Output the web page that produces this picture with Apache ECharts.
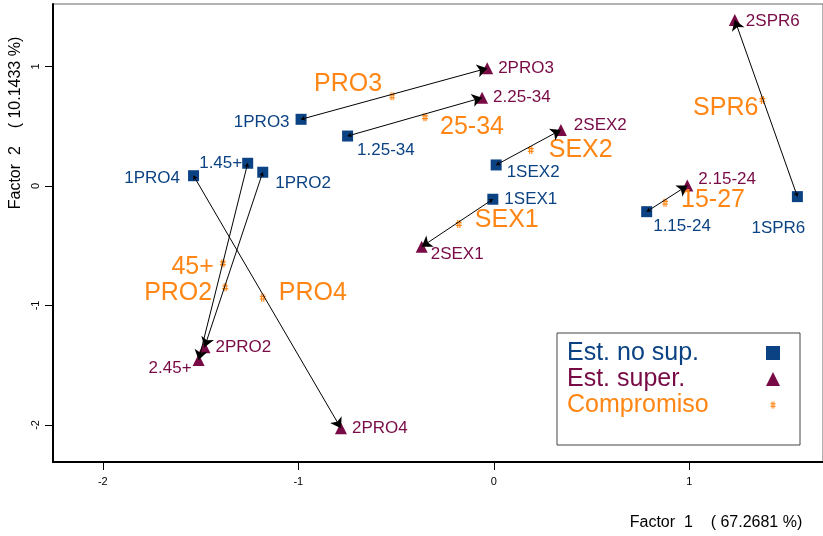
<!DOCTYPE html>
<html>
<head>
<meta charset="utf-8">
<script src="https://cdn.jsdelivr.net/npm/echarts@6/dist/echarts.min.js"></script>
<style>
  html, body { margin: 0; padding: 0; background: #fff; }
  #chart { width: 823px; height: 536px; }
</style>
</head>
<body>
<div id="chart"></div>
<script>
// Est. no sup. (squares)
const noSupNames = ["1PRO3", "1.25-34", "1SEX2", "1SEX1", "1.15-24", "1SPR6", "1.45+", "1PRO2", "1PRO4"];
const noSupX = [-0.986, -0.748, 0.012, -0.005, 0.782, 1.553, -1.259, -1.182, -1.536];
const noSupY = [0.558, 0.418, 0.176, -0.111, -0.215, -0.089, 0.19, 0.115, 0.086];

// Est. super. (triangles)
const superNames = ["2PRO3", "2.25-34", "2SEX2", "2SEX1", "2.15-24", "2SPR6", "2.45+", "2PRO2", "2PRO4"];
const superX = [-0.034, -0.06, 0.343, -0.369, 0.99, 1.233, -1.51, -1.48, -0.782];
const superY = [0.985, 0.739, 0.469, -0.508, 0.003, 1.389, -1.456, -1.35, -2.028];

// Compromiso (#)
const compNames = ["PRO3", "25-34", "SEX2", "SEX1", "15-27", "SPR6", "45+", "PRO2", "PRO4"];
const compX = [-0.52, -0.352, 0.189, -0.179, 0.876, 1.374, -1.386, -1.374, -1.182];
const compY = [0.75, 0.575, 0.301, -0.318, -0.14, 0.72, -0.647, -0.848, -0.935];

const xTicks = [-2, -1, 0, 1];
const yTicks = [-2, -1, 0, 1];

// where each label sits: [side, dx, dy]
const place = {
  "1PRO3": ["left", -1, 3], "1.25-34": ["right", -1, 14], "1SEX2": ["right", 0, 7],
  "1SEX1": ["right", 1, 0], "1.15-24": ["right", -4, 15], "1SPR6": ["bottom", -19, 13],
  "1.45+": ["left", 5, 0], "1PRO2": ["right", 2, 11], "1PRO4": ["left", -3, 3],
  "2PRO3": ["right", 0, 0], "2.25-34": ["right", 0, 0], "2SEX2": ["right", 2, -5],
  "2SEX1": ["right", -2, 8], "2.15-24": ["right", 0, -6], "2SPR6": ["right", 0, 1],
  "2.45+": ["left", 4, 8], "2PRO2": ["right", 0, 0], "2PRO4": ["right", 0, 0],
  "PRO3": ["left", 0, -12], "25-34": ["right", 5, 10], "SEX2": ["right", 8, 0],
  "SEX1": ["right", 6, -4], "15-27": ["right", 6, -3], "SPR6": ["left", 6, 8],
  "45+": ["left", 1, 4], "PRO2": ["left", -3, 6], "PRO4": ["right", 6, -5]
};

const BLUE = "#0B4283";
const MAROON = "#780A45";
const ORANGE = "#FF8614";
const FONT = "Liberation Sans, Arial, sans-serif";

// hash glyph with invisible corner specks so it sits small inside its box
const HASH = "path://M0,0h0.01v0.01h-0.01z M20,20h0.01v0.01h-0.01z " +
  "M8,5h1.4v10h-1.4z M10.6,5h1.4v10h-1.4z M6.3,7.6h7.4v1.4h-7.4z M6.3,11h7.4v1.4h-7.4z";

function points(names, xs, ys) {
  return names.map((n, i) => {
    const p = place[n];
    return {
      name: n,
      value: [xs[i], ys[i]],
      label: { position: p[0], offset: [p[1], p[2]] }
    };
  });
}

const arrows = noSupNames.map((n, i) => ({
  coords: [[noSupX[i], noSupY[i]], [superX[i], superY[i]]]
}));

const chart = echarts.init(document.getElementById("chart"));

const option = {
  animation: false,
  backgroundColor: "#fff",
  textStyle: { fontFamily: FONT },
  grid: {
    left: 53, top: 4, right: -2, bottom: 74,
    show: true, borderColor: "#666", borderWidth: 1
  },
  xAxis: {
    type: "value",
    min: -2.255,
    max: 1.684,
    splitLine: { show: false },
    axisLine: { onZero: false, lineStyle: { color: "#000", width: 2 } },
    axisTick: { length: 8, customValues: xTicks, lineStyle: { color: "#000" } },
    axisLabel: { customValues: xTicks, color: "#000", fontSize: 11, margin: 14, fontFamily: FONT }
  },
  yAxis: {
    type: "value",
    min: -2.31,
    max: 1.523,
    splitLine: { show: false },
    axisLine: { onZero: false, lineStyle: { color: "#000", width: 2 } },
    axisTick: { length: 8, customValues: yTicks, lineStyle: { color: "#000" } },
    axisLabel: { customValues: yTicks, color: "#000", fontSize: 11, margin: 12, rotate: 90, fontFamily: FONT }
  },
  legend: [
    {
      // text column
      orient: "vertical",
      left: 562,
      top: 340,
      padding: 0,
      itemGap: 0,
      itemWidth: 0,
      itemHeight: 0,
      icon: "none",
      selectedMode: false,
      textStyle: { fontSize: 25, lineHeight: 26, fontFamily: FONT },
      data: [
        { name: "Est. no sup.", textStyle: { color: BLUE } },
        { name: "Est. super.", textStyle: { color: MAROON } },
        { name: "Compromiso", textStyle: { color: ORANGE } }
      ]
    },
    {
      // symbol column
      orient: "vertical",
      left: 766,
      top: 340,
      padding: 0,
      itemGap: 0,
      itemWidth: 14,
      itemHeight: 14,
      selectedMode: false,
      formatter: () => " ",
      textStyle: { fontSize: 25, lineHeight: 26, fontFamily: FONT },
      data: ["Est. no sup.", "Est. super.", "Compromiso"]
    }
  ],
  graphic: [
    {
      type: "rect",
      shape: { x: 557, y: 333, width: 243, height: 112 },
      style: { fill: "none", stroke: "#444", lineWidth: 1 }
    },
    {
      type: "text",
      x: 716, y: 523,
      style: {
        text: "Factor  1    ( 67.2681 %)",
        font: "16px " + FONT, fill: "#000", align: "center", verticalAlign: "middle"
      }
    },
    {
      type: "text",
      x: 16, y: 123,
      rotation: Math.PI / 2,
      style: {
        text: "Factor  2    ( 10.1433 %)",
        font: "16px " + FONT, fill: "#000", align: "center", verticalAlign: "middle"
      }
    }
  ],
  series: [
    {
      name: "Est. no sup.",
      type: "scatter",
      symbol: "rect",
      symbolSize: 11,
      itemStyle: { color: BLUE, opacity: 1 },
      label: { show: true, formatter: "{b}", color: BLUE, fontSize: 17, fontFamily: FONT },
      data: points(noSupNames, noSupX, noSupY)
    },
    {
      name: "Est. super.",
      type: "scatter",
      symbol: "triangle",
      symbolSize: 12,
      itemStyle: { color: MAROON, opacity: 1 },
      label: { show: true, formatter: "{b}", color: MAROON, fontSize: 17, fontFamily: FONT },
      data: points(superNames, superX, superY)
    },
    {
      name: "Compromiso",
      type: "scatter",
      symbol: HASH,
      symbolSize: 16,
      itemStyle: { color: ORANGE, opacity: 1 },
      label: { show: true, formatter: "{b}", color: ORANGE, fontSize: 25, distance: 2, fontFamily: FONT },
      data: points(compNames, compX, compY)
    },
    {
      type: "lines",
      coordinateSystem: "cartesian2d",
      z: 5,
      symbol: ["arrow", "arrow"],
      symbolSize: [4, 10],
      lineStyle: { color: "#000", width: 1, opacity: 1 },
      data: arrows
    }
  ]
};

chart.setOption(option);
</script>
</body>
</html>
